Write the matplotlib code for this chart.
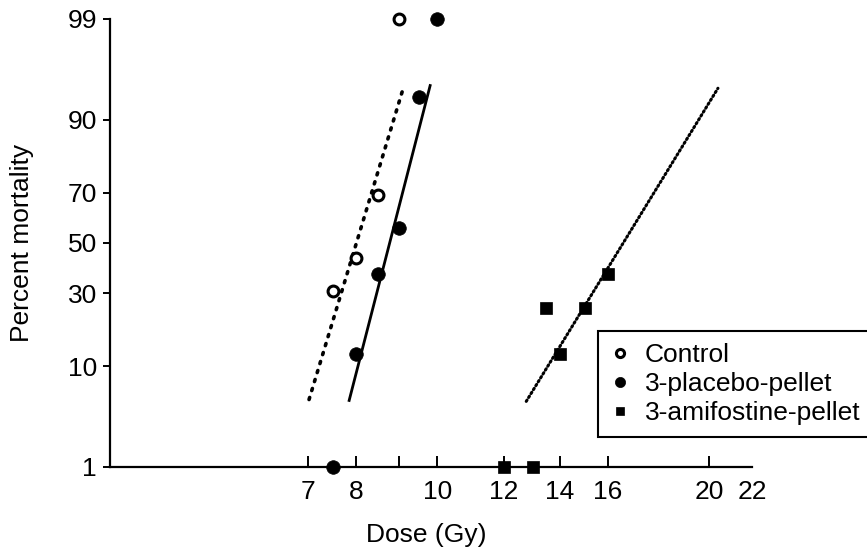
import math
import numpy as np
import matplotlib
matplotlib.use("Agg")
import matplotlib.pyplot as plt

# ---------------- data ----------------
control_dose = [7.5, 8.0, 8.5, 9.0]
control_pct = [31, 44, 69, 99]

placebo_dose = [7.5, 8.0, 8.5, 9.0, 9.5, 10.0]
placebo_pct = [1, 12.5, 37.5, 56, 93.5, 99]

amifostine_dose = [12, 13, 13.5, 14, 15, 16]
amifostine_pct = [1, 1, 25, 12.5, 25, 37.5]

# fitted probit lines (end points)
control_fit_dose = [7.02, 9.12]
control_fit_pct = [5.2, 94.9]
placebo_fit_dose = [7.84, 9.80]
placebo_fit_pct = [5.1, 94.9]
amifostine_fit_dose = [12.77, 20.4]
amifostine_fit_pct = [5.0, 94.6]

series_labels = ["Control", "3-placebo-pellet", "3-amifostine-pellet"]

x_ticks = [7, 8, 9, 10, 12, 14, 16, 20, 22]
x_tick_labels = ["7", "8", "", "10", "12", "14", "16", "20", "22"]
y_ticks = [1, 10, 30, 50, 70, 90, 99]
y_tick_labels = ["1", "10", "30", "50", "70", "90", "99"]

# ---------------- probit scale ----------------
_a = [-3.969683028665376e+01, 2.209460984245205e+02, -2.759285104469687e+02,
      1.383577518672690e+02, -3.066479806614716e+01, 2.506628277459239e+00]
_b = [-5.447609879822406e+01, 1.615858368580409e+02, -1.556989798598866e+02,
      6.680131188771972e+01, -1.328068155288572e+01]
_c = [-7.784894002430293e-03, -3.223964580411365e-01, -2.400758277161838e+00,
      -2.549732969848717e+00, 4.374664141464968e+00, 2.938163982698783e+00]
_d = [7.784695709041462e-03, 3.224671290700398e-01, 2.445134137142996e+00,
      3.754408661907416e+00]


def _ppf(p):
    p = min(max(p, 1e-12), 1 - 1e-12)
    plow = 0.02425
    if p < plow:
        q = math.sqrt(-2 * math.log(p))
        return (((((_c[0]*q+_c[1])*q+_c[2])*q+_c[3])*q+_c[4])*q+_c[5]) / \
               ((((_d[0]*q+_d[1])*q+_d[2])*q+_d[3])*q+1)
    if p > 1 - plow:
        q = math.sqrt(-2 * math.log(1 - p))
        return -(((((_c[0]*q+_c[1])*q+_c[2])*q+_c[3])*q+_c[4])*q+_c[5]) / \
                ((((_d[0]*q+_d[1])*q+_d[2])*q+_d[3])*q+1)
    q = p - 0.5
    r = q * q
    return (((((_a[0]*r+_a[1])*r+_a[2])*r+_a[3])*r+_a[4])*r+_a[5])*q / \
           (((((_b[0]*r+_b[1])*r+_b[2])*r+_b[3])*r+_b[4])*r+1)


_ppf_v = np.vectorize(lambda v: _ppf(v / 100.0), otypes=[float])
_cdf_v = np.vectorize(lambda z: 50.0 * (1.0 + math.erf(z / math.sqrt(2))), otypes=[float])


def probit_fwd(p):
    return _ppf_v(np.asarray(p, dtype=float))


def probit_inv(z):
    return _cdf_v(np.asarray(z, dtype=float))


# ---------------- dose scale (log, stretched above 16 as drawn) ----------------
LOG_KNOTS = np.log([16.0, 20.0, 22.0, 60.0])
U_KNOTS = np.array([np.log(16.0), 3.0506, 3.169, 3.169 + np.log(60.0 / 22.0)])


def dose_fwd(x):
    lx = np.log(np.clip(np.asarray(x, dtype=float), 1e-6, None))
    return np.where(lx <= LOG_KNOTS[0], lx, np.interp(lx, LOG_KNOTS, U_KNOTS))


def dose_inv(u):
    u = np.asarray(u, dtype=float)
    return np.exp(np.where(u <= U_KNOTS[0], u, np.interp(u, U_KNOTS, LOG_KNOTS)))


# ---------------- figure ----------------
plt.rcParams['font.family'] = ['Liberation Sans', 'DejaVu Sans']
FS = 19

fig = plt.figure(figsize=(8.67, 5.54), dpi=100)
fig.patch.set_facecolor('white')
ax = fig.add_axes([110 / 867, 1 - 467 / 554, 642 / 867, 448 / 554])

ax.set_xscale('function', functions=(dose_fwd, dose_inv))
ax.set_yscale('function', functions=(probit_fwd, probit_inv))
ax.set_xlim(4.057, 22)
ax.set_ylim(1, 99)

# fitted lines
ax.plot(control_fit_dose, control_fit_pct, color='black', lw=2.6,
        linestyle=(0, (0.6, 2.0)), dash_capstyle='round', zorder=2)
ax.plot(placebo_fit_dose, placebo_fit_pct, color='black', lw=2.0,
        linestyle='-', zorder=2)
ax.plot(amifostine_fit_dose, amifostine_fit_pct, color='black', lw=2.2,
        linestyle=(0, (0.5, 1.0)), dash_capstyle='round', zorder=2)

# data points
ax.plot(control_dose, control_pct, linestyle='none', marker='o', ms=7.8,
        mfc='white', mec='black', mew=2.2, clip_on=False, zorder=4,
        label=series_labels[0])
ax.plot(placebo_dose, placebo_pct, linestyle='none', marker='o', ms=9.8,
        mfc='black', mec='black', mew=0.5, clip_on=False, zorder=4,
        label=series_labels[1])
ax.plot(amifostine_dose, amifostine_pct, linestyle='none', marker='s', ms=8.2,
        mfc='black', mec='black', mew=0.5, clip_on=False, zorder=4,
        label=series_labels[2])

# axes styling
for s in ('top', 'right'):
    ax.spines[s].set_visible(False)
for s in ('left', 'bottom'):
    ax.spines[s].set_linewidth(1.6)
    ax.spines[s].set_color('black')

ax.set_xticks(x_ticks)
ax.set_xticklabels(x_tick_labels)
ax.set_yticks(y_ticks)
ax.set_yticklabels(y_tick_labels)
ax.xaxis.set_minor_locator(matplotlib.ticker.NullLocator())
ax.yaxis.set_minor_locator(matplotlib.ticker.NullLocator())

ax.tick_params(axis='x', direction='in', length=8, width=1.4, pad=9.4,
               labelsize=FS, colors='black')
ax.tick_params(axis='y', direction='out', length=5, width=1.4, pad=4.3,
               labelsize=FS, colors='black')
ax.xaxis.get_major_ticks()[-1].tick1line.set_visible(False)

ax.set_xlabel('Dose (Gy)', fontsize=FS)
ax.set_ylabel('Percent mortality', fontsize=FS)
ax.xaxis.set_label_coords(0.492, -0.125)
ax.yaxis.set_label_coords(-0.118, 0.5)

leg = ax.legend(loc='upper left', bbox_to_anchor=(598 / 867, 1 - 331 / 554),
                bbox_transform=fig.transFigure, borderaxespad=0,
                fontsize=FS, frameon=True, fancybox=False, framealpha=1,
                edgecolor='black', markerscale=0.75, handlelength=0.8,
                handletextpad=0.53, labelspacing=0.2, borderpad=0.45,
                numpoints=1)
leg.get_frame().set_linewidth(1.5)

fig.savefig('out.png', dpi=100, facecolor='white')
